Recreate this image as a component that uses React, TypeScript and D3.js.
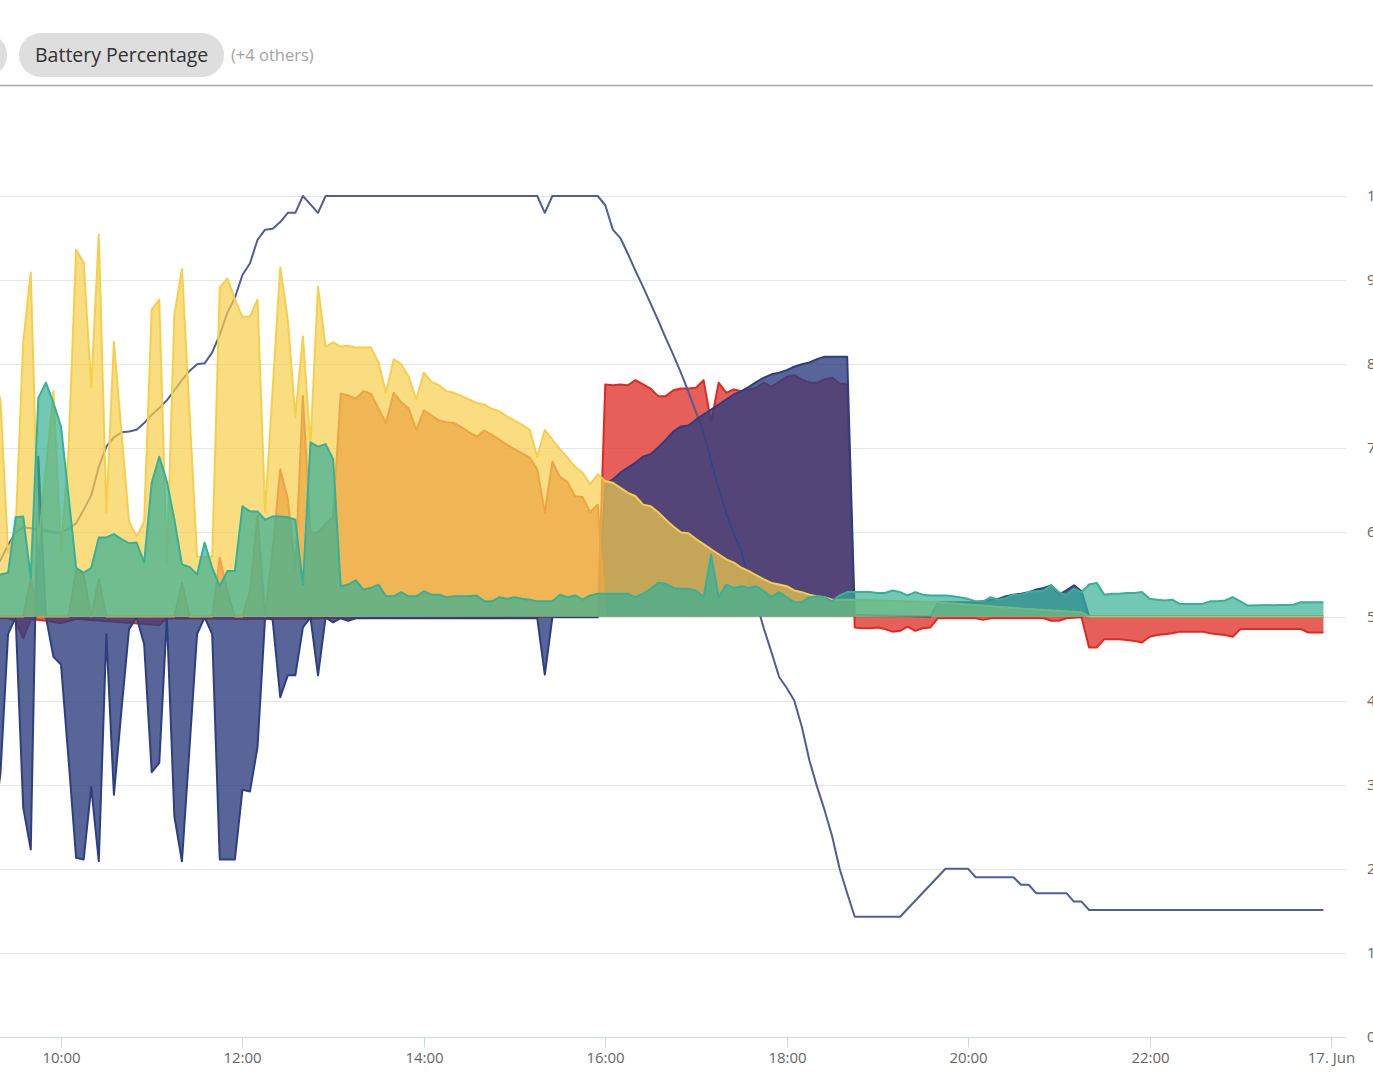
import React, { useRef, useEffect } from "react";
import * as d3 from "d3";

type Point = [string, number];

// Power values in kW (16 June, 5 minute samples)
const solarPower: Point[] = [
  ["09:15", 3.0], ["09:20", 2.56], ["09:25", 0.76], ["09:30", 1.03], ["09:35", 3.26], ["09:40", 4.09],
  ["09:45", 0.86], ["09:50", 1.75], ["09:55", 2.68], ["10:00", 0.76], ["10:05", 1.99], ["10:10", 4.36],
  ["10:15", 4.21], ["10:20", 2.73], ["10:25", 4.54], ["10:30", 1.24], ["10:35", 3.27], ["10:40", 2.19],
  ["10:45", 1.13], ["10:50", 0.95], ["10:55", 1.13], ["11:00", 3.65], ["11:05", 3.77], ["11:10", 0.62],
  ["11:15", 3.59], ["11:20", 4.13], ["11:25", 2.43], ["11:30", 0.71], ["11:35", 0.71], ["11:40", 0.71],
  ["11:45", 3.91], ["11:50", 4.02], ["11:55", 3.77], ["12:00", 3.56], ["12:05", 3.57], ["12:10", 3.77],
  ["12:15", 1.24], ["12:20", 2.7], ["12:25", 4.15], ["12:30", 3.53], ["12:35", 2.37], ["12:40", 3.33],
  ["12:45", 2.05], ["12:50", 3.92], ["12:55", 3.21], ["13:00", 3.26], ["13:05", 3.21], ["13:10", 3.22],
  ["13:15", 3.2], ["13:20", 3.2], ["13:25", 3.2], ["13:30", 3.02], ["13:35", 2.66], ["13:40", 3.06],
  ["13:45", 3.0], ["13:50", 2.85], ["13:55", 2.58], ["14:00", 2.9], ["14:05", 2.79], ["14:10", 2.75],
  ["14:15", 2.68], ["14:20", 2.66], ["14:25", 2.62], ["14:30", 2.58], ["14:35", 2.54], ["14:40", 2.52],
  ["14:45", 2.47], ["14:50", 2.44], ["14:55", 2.38], ["15:00", 2.33], ["15:05", 2.28], ["15:10", 2.22],
  ["15:15", 1.9], ["15:20", 2.22], ["15:25", 2.1], ["15:30", 1.99], ["15:35", 1.89], ["15:40", 1.78],
  ["15:45", 1.71], ["15:50", 1.57], ["15:55", 1.69], ["16:00", 1.61], ["16:05", 1.59], ["16:10", 1.53],
  ["16:15", 1.47], ["16:20", 1.43], ["16:25", 1.33], ["16:30", 1.31], ["16:35", 1.24], ["16:40", 1.15],
  ["16:45", 1.07], ["16:50", 1.0], ["16:55", 0.99], ["17:00", 0.92], ["17:05", 0.86], ["17:10", 0.8],
  ["17:15", 0.74], ["17:20", 0.68], ["17:25", 0.64], ["17:30", 0.58], ["17:35", 0.54], ["17:40", 0.49],
  ["17:45", 0.44], ["17:50", 0.4], ["17:55", 0.38], ["18:00", 0.36], ["18:05", 0.31], ["18:10", 0.29],
  ["18:15", 0.26], ["18:20", 0.24], ["18:25", 0.23], ["18:30", 0.2], ["18:45", 0.2], ["19:40", 0.17],
  ["20:30", 0.1], ["21:15", 0.05], ["21:20", 0], ["23:55", 0],
];

const solarToBattery: Point[] = [
  ["09:15", 0], ["09:35", 0], ["09:40", 0.45], ["09:45", 0], ["10:05", 0], ["10:10", 0.55], ["10:15", 0.5],
  ["10:20", 0], ["10:25", 0.45], ["10:30", 0], ["11:15", 0], ["11:20", 0.4], ["11:25", 0], ["11:40", 0],
  ["11:45", 0.7], ["11:50", 0.3], ["11:55", 0], ["12:00", 0], ["12:05", 0.3], ["12:10", 1.2], ["12:15", 0],
  ["12:20", 0.8], ["12:25", 1.75], ["12:30", 1.4], ["12:35", 0.56], ["12:40", 2.62], ["12:45", 1.0],
  ["12:50", 1.0], ["12:55", 1.1], ["13:00", 1.19], ["13:05", 2.65], ["13:10", 2.63], ["13:15", 2.59],
  ["13:20", 2.68], ["13:25", 2.65], ["13:30", 2.47], ["13:35", 2.3], ["13:40", 2.66], ["13:45", 2.55],
  ["13:50", 2.47], ["13:55", 2.22], ["14:00", 2.45], ["14:05", 2.39], ["14:10", 2.33], ["14:15", 2.31],
  ["14:20", 2.3], ["14:25", 2.25], ["14:30", 2.19], ["14:35", 2.14], ["14:40", 2.21], ["14:45", 2.16],
  ["14:50", 2.1], ["14:55", 2.04], ["15:00", 1.99], ["15:05", 1.94], ["15:10", 1.89], ["15:15", 1.75],
  ["15:20", 1.24], ["15:25", 1.84], ["15:30", 1.66], ["15:35", 1.6], ["15:40", 1.43], ["15:45", 1.42],
  ["15:50", 1.24], ["15:55", 1.33], ["16:00", 0],
];

const gridPower: Point[] = [
  ["09:15", -0.02], ["09:25", -0.02], ["09:30", -0.05], ["09:35", -0.26], ["09:40", -0.03], ["09:50", -0.05],
  ["10:00", -0.08], ["10:10", -0.03], ["11:05", -0.1], ["11:10", -0.02], ["12:20", -0.03], ["13:00", -0.02],
  ["15:55", 0], ["16:00", 2.76], ["16:05", 2.75], ["16:10", 2.76], ["16:15", 2.75], ["16:20", 2.81],
  ["16:25", 2.76], ["16:30", 2.71], ["16:35", 2.62], ["16:40", 2.62], ["16:45", 2.69], ["16:50", 2.71],
  ["16:55", 2.71], ["17:00", 2.72], ["17:05", 2.81], ["17:10", 2.31], ["17:15", 2.78], ["17:20", 2.66],
  ["17:25", 2.7], ["17:30", 2.68], ["17:35", 2.7], ["17:40", 2.72], ["17:45", 2.78], ["17:50", 2.73],
  ["17:55", 2.79], ["18:00", 2.85], ["18:05", 2.87], ["18:10", 2.82], ["18:15", 2.78], ["18:20", 2.78],
  ["18:25", 2.82], ["18:30", 2.84], ["18:35", 2.77], ["18:40", 2.76], ["18:45", -0.13], ["18:50", -0.14],
  ["18:55", -0.14], ["19:00", -0.13], ["19:05", -0.15], ["19:10", -0.18], ["19:15", -0.17], ["19:20", -0.12],
  ["19:25", -0.17], ["19:30", -0.14], ["19:35", -0.13], ["19:40", -0.02], ["20:05", -0.02], ["20:10", -0.04],
  ["20:15", -0.02], ["20:50", -0.02], ["20:55", -0.05], ["21:00", -0.05], ["21:05", -0.02], ["21:15", -0.01],
  ["21:20", -0.37], ["21:25", -0.37], ["21:30", -0.27], ["21:35", -0.27], ["21:40", -0.27], ["21:45", -0.28],
  ["21:50", -0.29], ["21:55", -0.31], ["22:00", -0.24], ["22:05", -0.22], ["22:10", -0.21], ["22:15", -0.2],
  ["22:20", -0.18], ["22:25", -0.18], ["22:30", -0.18], ["22:35", -0.18], ["22:40", -0.2], ["22:45", -0.21],
  ["22:50", -0.22], ["22:55", -0.24], ["23:00", -0.15], ["23:05", -0.15], ["23:40", -0.15], ["23:45", -0.19],
  ["23:50", -0.19], ["23:55", -0.19],
];

const batteryPower: Point[] = [
  ["09:15", -2.6], ["09:20", -1.85], ["09:25", -0.21], ["09:30", -0.01], ["09:35", -2.27], ["09:40", -2.77],
  ["09:45", 1.9], ["09:50", 0], ["09:55", -0.48], ["10:00", -0.57], ["10:05", -1.7], ["10:10", -2.87],
  ["10:15", -2.89], ["10:20", -2.03], ["10:25", -2.91], ["10:30", -0.21], ["10:35", -2.12], ["10:40", -1.11],
  ["10:45", -0.15], ["10:50", -0.01], ["10:55", -0.33], ["11:00", -1.85], ["11:05", -1.74], ["11:10", -0.01],
  ["11:15", -2.38], ["11:20", -2.91], ["11:25", -1.56], ["11:30", -0.21], ["11:35", -0.01], ["11:40", -0.21],
  ["11:45", -2.89], ["11:50", -2.89], ["11:55", -2.89], ["12:00", -2.06], ["12:05", -2.08], ["12:10", -1.55],
  ["12:15", -0.01], ["12:20", -0.04], ["12:25", -0.96], ["12:30", -0.7], ["12:35", -0.7], ["12:40", -0.13],
  ["12:45", -0.01], ["12:50", -0.7], ["12:55", -0.01], ["13:00", -0.07], ["13:05", -0.02], ["13:10", -0.05],
  ["13:15", -0.02], ["15:15", -0.02], ["15:20", -0.69], ["15:25", -0.01], ["15:55", -0.01], ["16:00", 1.57],
  ["16:05", 1.63], ["16:10", 1.71], ["16:15", 1.77], ["16:20", 1.83], ["16:25", 1.9], ["16:30", 1.93],
  ["16:35", 2.01], ["16:40", 2.1], ["16:45", 2.2], ["16:50", 2.26], ["16:55", 2.27], ["17:00", 2.34],
  ["17:05", 2.4], ["17:10", 2.46], ["17:15", 2.52], ["17:20", 2.58], ["17:25", 2.64], ["17:30", 2.68],
  ["17:35", 2.73], ["17:40", 2.79], ["17:45", 2.84], ["17:50", 2.88], ["17:55", 2.9], ["18:00", 2.93],
  ["18:05", 2.97], ["18:10", 3.0], ["18:15", 3.02], ["18:20", 3.06], ["18:25", 3.09], ["18:30", 3.09],
  ["18:35", 3.09], ["18:40", 3.09], ["18:45", 0.02], ["19:35", 0], ["19:40", 0.17], ["20:05", 0.17],
  ["20:10", 0.18], ["20:15", 0.2], ["20:20", 0.21], ["20:25", 0.24], ["20:30", 0.26], ["20:35", 0.27],
  ["20:40", 0.29], ["20:45", 0.32], ["20:50", 0.34], ["20:55", 0.37], ["21:00", 0.26], ["21:05", 0.31],
  ["21:10", 0.37], ["21:15", 0.3], ["21:20", 0], ["23:55", 0],
];

const housePower: Point[] = [
  ["09:15", 0.5], ["09:20", 0.5], ["09:25", 0.52], ["09:30", 1.18], ["09:35", 1.19], ["09:40", 0.46],
  ["09:45", 2.6], ["09:50", 2.78], ["09:55", 2.54], ["10:00", 2.26], ["10:05", 1.43], ["10:10", 0.58],
  ["10:15", 0.52], ["10:20", 0.58], ["10:25", 0.94], ["10:30", 0.94], ["10:35", 0.98], ["10:40", 0.92],
  ["10:45", 0.87], ["10:50", 0.88], ["10:55", 0.64], ["11:00", 1.59], ["11:05", 1.9], ["11:10", 1.61],
  ["11:15", 1.15], ["11:20", 0.62], ["11:25", 0.59], ["11:30", 0.5], ["11:35", 0.88], ["11:40", 0.58],
  ["11:45", 0.36], ["11:50", 0.54], ["11:55", 0.54], ["12:00", 1.31], ["12:05", 1.25], ["12:10", 1.25],
  ["12:15", 1.15], ["12:20", 1.19], ["12:25", 1.19], ["12:30", 1.18], ["12:35", 1.15], ["12:40", 0.38],
  ["12:45", 2.07], ["12:50", 2.02], ["12:55", 2.05], ["13:00", 1.87], ["13:05", 0.36], ["13:10", 0.38],
  ["13:15", 0.43], ["13:20", 0.32], ["13:25", 0.34], ["13:30", 0.38], ["13:35", 0.24], ["13:40", 0.24],
  ["13:45", 0.29], ["13:50", 0.24], ["13:55", 0.24], ["14:00", 0.3], ["14:05", 0.26], ["14:10", 0.26],
  ["14:15", 0.23], ["14:20", 0.24], ["14:25", 0.24], ["14:30", 0.24], ["14:35", 0.25], ["14:40", 0.18],
  ["14:45", 0.18], ["14:50", 0.23], ["14:55", 0.21], ["15:00", 0.23], ["15:05", 0.21], ["15:10", 0.2],
  ["15:15", 0.18], ["15:20", 0.18], ["15:25", 0.18], ["15:30", 0.26], ["15:35", 0.23], ["15:40", 0.25],
  ["15:45", 0.2], ["15:50", 0.25], ["15:55", 0.27], ["16:00", 0.27], ["16:05", 0.27], ["16:10", 0.27],
  ["16:15", 0.27], ["16:20", 0.23], ["16:25", 0.27], ["16:30", 0.33], ["16:35", 0.4], ["16:40", 0.39],
  ["16:45", 0.34], ["16:50", 0.33], ["16:55", 0.33], ["17:00", 0.31], ["17:05", 0.23], ["17:10", 0.73],
  ["17:15", 0.23], ["17:20", 0.38], ["17:25", 0.34], ["17:30", 0.36], ["17:35", 0.34], ["17:40", 0.36],
  ["17:45", 0.3], ["17:50", 0.23], ["17:55", 0.29], ["18:00", 0.23], ["18:05", 0.17], ["18:10", 0.17],
  ["18:15", 0.23], ["18:20", 0.24], ["18:25", 0.23], ["18:30", 0.18], ["18:35", 0.25], ["18:40", 0.29],
  ["18:45", 0.29], ["18:50", 0.29], ["18:55", 0.29], ["19:00", 0.28], ["19:05", 0.28], ["19:10", 0.31],
  ["19:15", 0.29], ["19:20", 0.25], ["19:25", 0.29], ["19:30", 0.26], ["19:35", 0.25], ["19:40", 0.25],
  ["19:45", 0.25], ["19:50", 0.24], ["20:00", 0.21], ["20:05", 0.18], ["20:10", 0.18], ["20:15", 0.23],
  ["20:20", 0.2], ["20:25", 0.22], ["20:30", 0.26], ["20:35", 0.26], ["20:40", 0.29], ["20:45", 0.3],
  ["20:50", 0.31], ["20:55", 0.37], ["21:00", 0.29], ["21:05", 0.25], ["21:10", 0.33], ["21:15", 0.29],
  ["21:20", 0.38], ["21:25", 0.4], ["21:30", 0.26], ["21:35", 0.27], ["21:40", 0.27], ["21:45", 0.28],
  ["21:50", 0.28], ["21:55", 0.29], ["22:00", 0.21], ["22:05", 0.2], ["22:10", 0.19], ["22:15", 0.2],
  ["22:20", 0.15], ["22:35", 0.15], ["22:40", 0.18], ["22:45", 0.18], ["22:50", 0.19], ["22:55", 0.23],
  ["23:00", 0.18], ["23:05", 0.13], ["23:35", 0.14], ["23:40", 0.17], ["23:55", 0.17],
];

// Battery state of charge in %
const batteryPercentage: Point[] = [
  ["09:15", 55.5], ["09:20", 56.7], ["09:25", 58.5], ["09:30", 60], ["09:35", 60.6], ["09:40", 60.5],
  ["09:45", 60.3], ["09:50", 60.2], ["09:55", 60], ["10:00", 60], ["10:05", 60.4], ["10:10", 61.1],
  ["10:15", 62.7], ["10:20", 64.4], ["10:25", 67.8], ["10:30", 70.2], ["10:35", 71.3], ["10:40", 71.9],
  ["10:45", 72], ["10:50", 72.2], ["10:55", 73], ["11:00", 74], ["11:05", 74.8], ["11:10", 75.7],
  ["11:15", 76.9], ["11:20", 78.1], ["11:25", 79.2], ["11:30", 80], ["11:35", 80.1], ["11:40", 81.4],
  ["11:45", 83.5], ["11:50", 86.1], ["11:55", 87.9], ["12:00", 90.6], ["12:05", 92], ["12:10", 94.8],
  ["12:15", 96], ["12:20", 96.1], ["12:25", 96.9], ["12:30", 98], ["12:35", 98], ["12:40", 100],
  ["12:45", 99], ["12:50", 98], ["12:55", 100], ["15:15", 100], ["15:20", 98], ["15:25", 100],
  ["15:55", 100], ["16:00", 98.9], ["16:05", 96], ["16:10", 95], ["16:15", 93.1], ["16:20", 91.1],
  ["16:25", 89.2], ["16:30", 87.2], ["16:35", 85.2], ["16:40", 83.1], ["16:45", 81.1], ["16:50", 79],
  ["16:55", 76.7], ["17:00", 74.3], ["17:05", 71.9], ["17:10", 68.5], ["17:15", 65.2], ["17:20", 62.3],
  ["17:25", 59.8], ["17:30", 57.8], ["17:35", 54.4], ["17:40", 51.6], ["17:45", 48.5], ["17:50", 45.7],
  ["17:55", 42.8], ["18:00", 41.5], ["18:05", 40], ["18:10", 36.9], ["18:15", 32.9], ["18:20", 29.8],
  ["18:25", 27], ["18:30", 23.9], ["18:35", 20], ["18:40", 17.1], ["18:45", 14.3], ["19:15", 14.3],
  ["19:45", 20], ["20:00", 20], ["20:05", 19], ["20:30", 19], ["20:35", 18.1], ["20:40", 18.1],
  ["20:45", 17.1], ["21:05", 17.1], ["21:10", 16.1], ["21:15", 16.1], ["21:20", 15.1], ["23:55", 15.1],
];

const legendLabel = "Battery Percentage";
const legendMore = "(+4 others)";

const WIDTH = 1373;
const HEIGHT = 1082;
const PLOT_RIGHT = 1346;

const parseTime = (s: string) => {
  const [h, m] = s.split(":").map(Number);
  return new Date(2023, 5, 16, h, m);
};

const App: React.FC = () => {
  const svgRef = useRef<SVGSVGElement>(null);

  useEffect(() => {
    if (!svgRef.current) return;
    const svg = d3.select(svgRef.current);
    svg.selectAll("*").remove();

    const x = d3
      .scaleTime()
      .domain([parseTime("10:00"), new Date(2023, 5, 17, 0, 0)])
      .range([61, 1331]);
    const yPower = d3.scaleLinear().domain([-5, 5]).range([1037, 196]);
    const yPct = d3.scaleLinear().domain([0, 100]).range([1037, 196]);

    // Legend strip
    svg.append("rect").attr("x", -160).attr("y", 33).attr("width", 167).attr("height", 44)
      .attr("rx", 22).attr("fill", "#dedede");
    svg.append("rect").attr("x", 19).attr("y", 33).attr("width", 205).attr("height", 44)
      .attr("rx", 22).attr("fill", "#dedede");
    svg.append("text").attr("x", 35).attr("y", 62).attr("font-size", 19.5).attr("fill", "#333")
      .text(legendLabel);
    svg.append("text").attr("x", 231).attr("y", 61).attr("font-size", 16.5).attr("fill", "#a3a3a3")
      .text(legendMore);
    svg.append("line").attr("x1", 0).attr("x2", WIDTH).attr("y1", 85.5).attr("y2", 85.5)
      .attr("stroke", "#a6a6a6").attr("stroke-width", 1.5);

    // Grid lines + right axis labels
    const pctTicks = yPct.ticks(10);
    svg.append("g").selectAll("line").data(pctTicks).join("line")
      .attr("x1", 0).attr("x2", PLOT_RIGHT)
      .attr("y1", (d) => Math.round(yPct(d)) + 0.5).attr("y2", (d) => Math.round(yPct(d)) + 0.5)
      .attr("stroke", "#e6e6e6").attr("stroke-width", 1);
    svg.append("g").selectAll("text").data(pctTicks).join("text")
      .attr("x", 1367).attr("y", (d) => yPct(d) + 5)
      .attr("font-size", 15).attr("fill", "#666")
      .text((d) => String(d));

    const toRows = (data: Point[]) => data.map(([t, v]) => ({ t: parseTime(t), v }));

    const drawArea = (data: Point[], color: string, opacity: number) => {
      const rows = toRows(data);
      const area = d3.area<{ t: Date; v: number }>()
        .x((d) => x(d.t)).y0(yPower(0)).y1((d) => yPower(d.v));
      const line = d3.line<{ t: Date; v: number }>()
        .x((d) => x(d.t)).y((d) => yPower(d.v));
      svg.append("path").datum(rows).attr("d", area)
        .attr("fill", color).attr("fill-opacity", opacity).attr("stroke", "none");
      svg.append("path").datum(rows).attr("d", line)
        .attr("fill", "none").attr("stroke", color).attr("stroke-width", 2)
        .attr("stroke-linejoin", "round");
    };

    drawArea(gridPower, "#df2a22", 0.75);

    // Battery percentage line (sits under the other areas)
    const pctLine = d3.line<{ t: Date; v: number }>()
      .x((d) => x(d.t)).y((d) => yPct(d.v));
    svg.append("path").datum(toRows(batteryPercentage)).attr("d", pctLine)
      .attr("fill", "none").attr("stroke", "#4f5d98").attr("stroke-width", 2)
      .attr("stroke-linejoin", "round");

    drawArea(batteryPower, "#2e3f80", 0.8);
    drawArea(solarPower, "#f6cf4a", 0.7);
    drawArea(solarToBattery, "#eca544", 0.7);
    drawArea(housePower, "#36b096", 0.7);

    // X axis
    const axisY = 1037.5;
    svg.append("line").attr("x1", 0).attr("x2", PLOT_RIGHT).attr("y1", axisY).attr("y2", axisY)
      .attr("stroke", "#ccd6eb").attr("stroke-width", 1);
    const xTicks = x.ticks(d3.timeHour.every(2)!);
    const fmtHour = d3.timeFormat("%H:%M");
    const fmtDay = d3.timeFormat("%-d. %b");
    const tickG = svg.append("g").selectAll("g").data(xTicks).join("g")
      .attr("transform", (d) => `translate(${Math.round(x(d)) + 0.5},0)`);
    tickG.append("line").attr("y1", axisY).attr("y2", axisY + 10)
      .attr("stroke", "#ccd6eb").attr("stroke-width", 1);
    tickG.append("text").attr("y", 1063).attr("text-anchor", "middle")
      .attr("font-size", 15).attr("fill", "#666")
      .text((d) => (d.getHours() === 0 ? fmtDay(d) : fmtHour(d)));
  }, []);

  return (
    <svg
      ref={svgRef}
      width={WIDTH}
      height={HEIGHT}
      style={{ position: "absolute", left: 0, top: 0, fontFamily: "'Open Sans', sans-serif" }}
    />
  );
};

export default App;
